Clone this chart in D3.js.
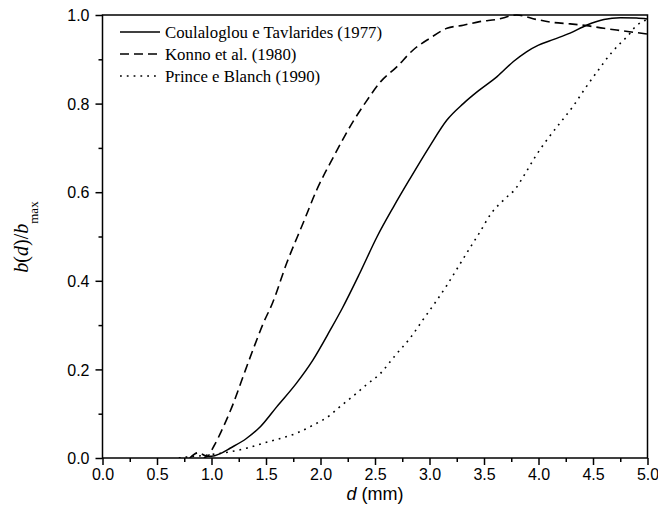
<!DOCTYPE html>
<html>
<head>
<meta charset="utf-8">
<script src="https://cdn.jsdelivr.net/npm/d3@7"></script>
<style>
  html, body { margin: 0; padding: 0; background: #fff; }
  svg { display: block; }
</style>
</head>
<body>
<svg id="chart" width="658" height="529"></svg>
<script>
// ---- data ----
const seriesNames = ["Coulaloglou e Tavlarides (1977)", "Konno et al. (1980)", "Prince e Blanch (1990)"];

const dCoul = [0.93, 0.97, 1.0, 1.08, 1.17, 1.32, 1.45, 1.6, 1.78, 1.93, 2.09, 2.2, 2.36, 2.52, 2.67, 2.82, 3.0, 3.16, 3.31, 3.46, 3.62, 3.77, 3.89, 4.0, 4.14, 4.29, 4.44, 4.6, 4.75, 4.9, 5.0];
const vCoul = [0.0, 0.004, 0.004, 0.01, 0.022, 0.044, 0.071, 0.116, 0.169, 0.221, 0.289, 0.338, 0.417, 0.5, 0.567, 0.63, 0.703, 0.763, 0.80, 0.831, 0.861, 0.895, 0.917, 0.932, 0.945, 0.959, 0.977, 0.99, 0.994, 0.993, 0.991];

const dKon = [0.8, 0.88, 0.96, 1.02, 1.11, 1.2, 1.29, 1.38, 1.475, 1.56, 1.69, 1.84, 1.965, 2.12, 2.3, 2.42, 2.55, 2.7, 2.85, 3.0, 3.16, 3.31, 3.46, 3.62, 3.8, 3.98, 4.14, 4.29, 4.44, 4.6, 4.75, 5.0];
const vKon = [0.0, 0.012, 0.004, 0.026, 0.071, 0.123, 0.184, 0.244, 0.304, 0.35, 0.44, 0.53, 0.605, 0.68, 0.76, 0.805, 0.849, 0.883, 0.921, 0.947, 0.97, 0.977, 0.985, 0.99, 1.0, 0.99, 0.983, 0.98, 0.976, 0.97, 0.965, 0.957];

const dPri = [0.7, 0.8, 0.9, 1.0, 1.17, 1.32, 1.47, 1.63, 1.78, 1.93, 2.09, 2.16, 2.3, 2.42, 2.55, 2.68, 2.82, 2.94, 3.05, 3.16, 3.26, 3.36, 3.46, 3.56, 3.7, 3.78, 3.88, 3.97, 4.08, 4.2, 4.32, 4.43, 4.55, 4.67, 4.75, 4.82, 4.89, 5.0];
const vPri = [0.0, 0.003, 0.005, 0.008, 0.014, 0.022, 0.033, 0.044, 0.056, 0.074, 0.097, 0.112, 0.14, 0.165, 0.191, 0.23, 0.27, 0.312, 0.35, 0.39, 0.43, 0.47, 0.509, 0.55, 0.587, 0.605, 0.643, 0.68, 0.719, 0.757, 0.795, 0.835, 0.876, 0.915, 0.936, 0.953, 0.974, 0.99];

const xTicks = [0.0, 0.5, 1.0, 1.5, 2.0, 2.5, 3.0, 3.5, 4.0, 4.5, 5.0];
const yTicks = [0.0, 0.2, 0.4, 0.6, 0.8, 1.0];
const xMinor = [0.25, 0.75, 1.25, 1.75, 2.25, 2.75, 3.25, 3.75, 4.25, 4.75];
const yMinor = [0.1, 0.3, 0.5, 0.7, 0.9];

// ---- layout ----
const svg = d3.select("#chart");
const L = 102.5, R = 647.5, T = 15, B = 458;

const x = d3.scaleLinear().domain([0, 5]).range([L, R]);
const y = d3.scaleLinear().domain([0, 1]).range([B, T]);

const series = [
  { name: seriesNames[0], d: dCoul, v: vCoul, dash: null },
  { name: seriesNames[1], d: dKon, v: vKon, dash: "9,5" },
  { name: seriesNames[2], d: dPri, v: vPri, dash: "1.8,5" }
];

const line = d3.line().x(p => x(p[0])).y(p => y(p[1])).curve(d3.curveMonotoneX);

svg.append("clipPath").attr("id", "clip")
  .append("rect").attr("x", L).attr("y", T - 2).attr("width", R - L).attr("height", B - T + 2);

const gLines = svg.append("g").attr("clip-path", "url(#clip)");
series.forEach(s => {
  gLines.append("path")
    .datum(s.d.map((dv, i) => [dv, s.v[i]]))
    .attr("d", line)
    .attr("fill", "none")
    .attr("stroke", "#000")
    .attr("stroke-width", s.dash ? 1.6 : 1.5)
    .attr("stroke-dasharray", s.dash);
});

// ---- axes ----
const tickFont = "'Liberation Sans', Arial, sans-serif";

const xAxis = d3.axisBottom(x).tickValues(xTicks).tickFormat(d3.format(".1f")).tickSizeInner(7).tickSizeOuter(0).tickPadding(4);
const gx = svg.append("g").attr("transform", `translate(0,${B})`).call(xAxis);
const xMinorAxis = d3.axisBottom(x).tickValues(xMinor).tickFormat("").tickSizeInner(4).tickSizeOuter(0);
const gxm = svg.append("g").attr("transform", `translate(0,${B})`).call(xMinorAxis);

const yAxis = d3.axisLeft(y).tickValues(yTicks).tickFormat(d3.format(".1f")).tickSizeInner(7).tickSizeOuter(0).tickPadding(6);
const gy = svg.append("g").attr("transform", `translate(${L},0)`).call(yAxis);
const yMinorAxis = d3.axisLeft(y).tickValues(yMinor).tickFormat("").tickSizeInner(4).tickSizeOuter(0);
const gym = svg.append("g").attr("transform", `translate(${L},0)`).call(yMinorAxis);

[gx, gxm, gy, gym].forEach(g => {
  g.select(".domain").remove();
  g.selectAll("line").attr("stroke", "#000").attr("stroke-width", 1.5);
  g.selectAll("text").attr("font-family", tickFont).attr("font-size", 16).attr("fill", "#000");
});
gy.selectAll("text").attr("dy", "0.36em");

// frame
svg.append("rect").attr("x", L).attr("y", T).attr("width", R - L).attr("height", B - T)
  .attr("fill", "none").attr("stroke", "#000").attr("stroke-width", 1.5);

// ---- axis titles ----
const xt = svg.append("text")
  .attr("x", (L + R) / 2).attr("y", 500)
  .attr("text-anchor", "middle")
  .attr("font-family", tickFont).attr("font-size", 18);
xt.append("tspan").attr("font-style", "italic").text("d");
xt.append("tspan").text(" (mm)");

const yt = svg.append("text")
  .attr("transform", "translate(28,237) rotate(-90)")
  .attr("text-anchor", "middle")
  .attr("font-family", "'Liberation Serif', 'Times New Roman', serif").attr("font-size", 20);
yt.append("tspan").attr("font-style", "italic").text("b");
yt.append("tspan").text("(");
yt.append("tspan").attr("font-style", "italic").text("d");
yt.append("tspan").text(")/");
yt.append("tspan").attr("font-style", "italic").text("b");
yt.append("tspan").attr("font-size", 13).attr("dy", 10).text("max");

// ---- legend ----
const lg = svg.append("g");
series.forEach((s, i) => {
  const yy = 32 + i * 22;
  lg.append("line")
    .attr("x1", 120).attr("x2", 160).attr("y1", yy).attr("y2", yy)
    .attr("stroke", "#000").attr("stroke-width", 1.5)
    .attr("stroke-dasharray", s.dash);
  lg.append("text")
    .attr("x", 165).attr("y", yy).attr("dy", "0.33em")
    .attr("font-family", "'Liberation Serif', 'Times New Roman', serif")
    .attr("font-size", 16.8)
    .text(s.name);
});
</script>
</body>
</html>
